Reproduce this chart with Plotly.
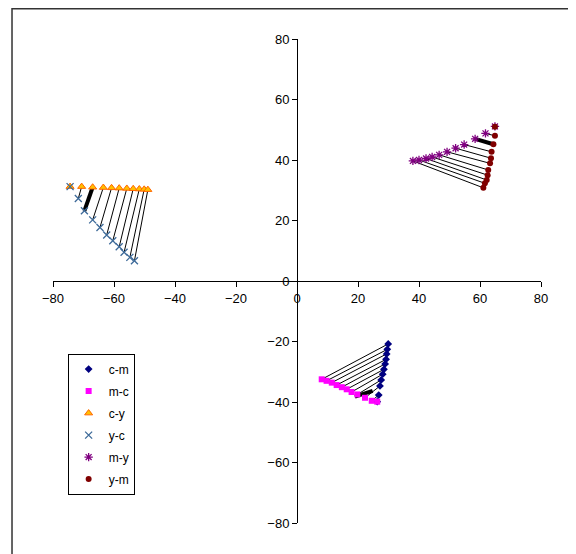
import plotly.graph_objects as go

# ---- data ----
cm_x = [29.9, 29.6, 29.4, 29.2, 28.9, 28.5, 28.1, 27.6, 27.2, 26.8, 26.3]
cm_y = [-20.8, -22.6, -24.1, -25.9, -27.4, -29.2, -30.8, -32.7, -34.7, -37.7, -39.9]
mc_x = [8.1, 9.7, 11.4, 13.0, 14.7, 16.3, 17.9, 19.8, 22.3, 24.5, 26.3]
mc_y = [-32.5, -33.0, -33.6, -34.4, -35.1, -35.8, -36.7, -37.5, -38.6, -39.6, -39.9]

cy_x = [-74.4, -70.6, -67.0, -63.5, -60.8, -58.3, -55.8, -53.7, -51.7, -50.1, -48.9]
cy_y = [31.2, 31.2, 31.0, 30.9, 30.8, 30.7, 30.6, 30.5, 30.4, 30.3, 30.2]
yc_x = [-74.4, -71.7, -69.7, -67.0, -64.6, -62.4, -60.4, -58.3, -56.7, -54.8, -53.3]
yc_y = [31.2, 27.3, 23.2, 20.2, 17.7, 15.2, 13.3, 11.3, 9.5, 7.8, 6.7]

my_x = [64.9, 61.8, 58.4, 54.8, 52.0, 49.2, 46.6, 44.3, 42.3, 40.0, 38.0]
my_y = [51.1, 48.8, 47.0, 45.1, 43.9, 42.7, 41.7, 41.0, 40.5, 40.0, 39.7]
ym_x = [64.9, 64.9, 64.4, 63.8, 63.6, 63.3, 62.7, 62.5, 62.2, 61.6, 61.1]
ym_y = [51.0, 48.0, 45.2, 42.7, 40.6, 38.9, 36.7, 35.0, 33.4, 32.3, 30.8]

# heavy black segments (start x, start y, end x, end y), one per group
heavy_x0 = [-67.0, 58.4, 19.0]
heavy_y0 = [31.0, 47.0, -38.2]
heavy_x1 = [-69.7, 64.4, 24.8]
heavy_y1 = [23.2, 45.2, -36.3]

tick_vals = [-80, -60, -40, -20, 0, 20, 40, 60, 80]

# pairs joined by thin black lines
pairs = [(cy_x, cy_y, yc_x, yc_y), (my_x, my_y, ym_x, ym_y), (mc_x, mc_y, cm_x, cm_y)]

fig = go.Figure()

lx, ly = [], []
for ax, ay, bx, by in pairs:
    for i in range(len(ax)):
        lx += [ax[i], bx[i], None]
        ly += [ay[i], by[i], None]
hx, hy = [], []
for i in range(len(heavy_x0)):
    hx += [heavy_x0[i], heavy_x1[i], None]
    hy += [heavy_y0[i], heavy_y1[i], None]

fig.add_trace(go.Scatter(x=lx, y=ly, mode="lines", line=dict(color="black", width=1),
                         showlegend=False, hoverinfo="skip"))
fig.add_trace(go.Scatter(x=hx, y=hy, mode="lines", line=dict(color="black", width=4),
                         showlegend=False, hoverinfo="skip"))

fig.add_trace(go.Scatter(x=cm_x, y=cm_y, mode="markers", name="c-m", legendgroup="a",
                         marker=dict(symbol="diamond", size=6, color="#000080")))
fig.add_trace(go.Scatter(x=mc_x, y=mc_y, mode="markers", name="m-c", legendgroup="b",
                         marker=dict(symbol="square", size=6, color="#FF00FF")))
fig.add_trace(go.Scatter(x=cy_x, y=cy_y, mode="markers", name="c-y", legendgroup="c",
                         marker=dict(symbol="triangle-up", size=7, color="#FFC000",
                                     line=dict(color="#FF6600", width=1))))
fig.add_trace(go.Scatter(x=yc_x, y=yc_y, mode="markers", name="y-c", legendgroup="d",
                         marker=dict(symbol="x-thin-open", size=7, color="#3D6A99",
                                     line=dict(color="#3D6A99", width=1.3))))
fig.add_trace(go.Scatter(x=my_x, y=my_y, mode="markers", name="m-y", legendgroup="e",
                         marker=dict(symbol="asterisk-open", size=7, color="#800080",
                                     line=dict(color="#800080", width=1.3))))
fig.add_trace(go.Scatter(x=ym_x, y=ym_y, mode="markers", name="y-m", legendgroup="f",
                         marker=dict(symbol="circle", size=6, color="#800000")))

axis_common = dict(range=[-80, 80], tickvals=tick_vals, showgrid=False, zeroline=False,
                   showline=True, linecolor="black", linewidth=1, ticks="outside",
                   ticklen=5, tickcolor="black", tickwidth=1,
                   tickfont=dict(family="Liberation Sans, Arial", size=13, color="black"),
                   anchor="free", position=0.5)

fig.update_layout(
    width=568, height=546,
    margin=dict(l=45, r=35, t=31, b=31),
    paper_bgcolor="white", plot_bgcolor="white",
    xaxis=axis_common,
    yaxis=axis_common,
    showlegend=True,
    legend=dict(x=0.03, y=0.35, xanchor="left", yanchor="top",
                bordercolor="black", borderwidth=1, bgcolor="white",
                font=dict(family="Liberation Sans, Arial", size=12, color="black"),
                itemwidth=30, tracegroupgap=3),
    shapes=[dict(type="rect", xref="paper", yref="paper",
                 x0=-0.084, x1=1.3, y0=-0.2, y1=1.0625,
                 line=dict(color="#333333", width=1.5), fillcolor="rgba(0,0,0,0)", layer="below")],
)

fig.write_html("out.html")
